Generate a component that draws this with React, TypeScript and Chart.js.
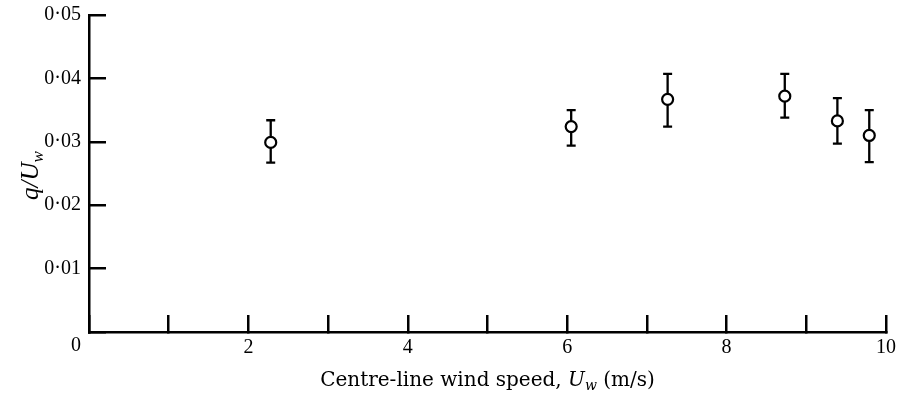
import React, { useEffect, useRef } from "react";
import { Chart, registerables } from "chart.js";

Chart.register(...registerables);

// ---- data ----
const windSpeed = [2.28, 6.05, 7.26, 8.73, 9.39, 9.79];
const ratio = [0.0299, 0.0324, 0.0367, 0.0372, 0.0333, 0.031];
const ratioLow = [0.0267, 0.0294, 0.0324, 0.0338, 0.0297, 0.0268];
const ratioHigh = [0.0334, 0.035, 0.0407, 0.0407, 0.0369, 0.035];

// tick labels indexed by tick value (x: 0..10, y: 0..5 hundredths)
const xTickLabels = ["", "", "2", "", "4", "", "6", "", "8", "", "10"];
const yTickLabels = ["", "0·01", "0·02", "0·03", "0·04", "0·05"];
const originLabel = "0";

const xTitleMain = "Centre-line wind speed, ";
const xTitleVar = "U";
const xTitleSub = "w";
const xTitleUnit = " (m/s)";
const yTitleVar = "q/U";
const yTitleSub = "w";

const SERIF = "'Liberation Serif', 'Times New Roman', serif";
const TITLE_SERIF = "'DejaVu Serif', 'Liberation Serif', serif";
const TICK_FONT_SIZE = 20;

type Run = { text: string; font: string; dy: number };

function drawRuns(ctx: CanvasRenderingContext2D, runs: Run[], cx: number, baseY: number) {
  let total = 0;
  const widths = runs.map((r) => {
    ctx.font = r.font;
    const w = ctx.measureText(r.text).width;
    total += w;
    return w;
  });
  let x = cx - total / 2;
  ctx.textAlign = "left";
  ctx.textBaseline = "alphabetic";
  runs.forEach((r, i) => {
    ctx.font = r.font;
    ctx.fillText(r.text, x, baseY + r.dy);
    x += widths[i];
  });
}

const errorBarPlugin = {
  id: "errorBars",
  beforeDatasetsDraw(chart: any) {
    const ctx = chart.ctx as CanvasRenderingContext2D;
    const xs = chart.scales.x;
    const ys = chart.scales.y;
    ctx.save();
    ctx.strokeStyle = "#000";
    ctx.lineWidth = 2.3;
    windSpeed.forEach((v, i) => {
      const px = xs.getPixelForValue(v);
      const top = ys.getPixelForValue(ratioHigh[i]);
      const bot = ys.getPixelForValue(ratioLow[i]);
      ctx.beginPath();
      ctx.moveTo(px, top);
      ctx.lineTo(px, bot);
      ctx.moveTo(px - 4.5, top);
      ctx.lineTo(px + 4.5, top);
      ctx.moveTo(px - 4.5, bot);
      ctx.lineTo(px + 4.5, bot);
      ctx.stroke();
    });
    ctx.restore();
  },
};

const axisTextPlugin = {
  id: "axisText",
  afterDraw(chart: any) {
    const ctx = chart.ctx as CanvasRenderingContext2D;
    const xs = chart.scales.x;
    const ys = chart.scales.y;
    const area = chart.chartArea;
    ctx.save();
    ctx.fillStyle = "#000";
    // shared origin label
    ctx.font = `${TICK_FONT_SIZE}px ${SERIF}`;
    ctx.textAlign = "right";
    ctx.textBaseline = "middle";
    ctx.fillText(originLabel, xs.getPixelForValue(0) - 8, ys.getPixelForValue(0) + 14);

    // x title
    const xSize = 20;
    drawRuns(
      ctx,
      [
        { text: xTitleMain, font: `${xSize}px ${TITLE_SERIF}`, dy: 0 },
        { text: xTitleVar, font: `italic ${xSize}px ${TITLE_SERIF}`, dy: 0 },
        { text: xTitleSub, font: `italic ${Math.round(xSize * 0.7)}px ${TITLE_SERIF}`, dy: 4 },
        { text: xTitleUnit, font: `${xSize}px ${TITLE_SERIF}`, dy: 0 },
      ],
      (area.left + area.right) / 2,
      386
    );

    // y title (rotated)
    ctx.translate(31, (area.top + area.bottom) / 2 + 2);
    ctx.rotate(-Math.PI / 2);
    const ySize = 25;
    drawRuns(
      ctx,
      [
        { text: yTitleVar, font: `italic ${ySize}px ${SERIF}`, dy: 0 },
        { text: yTitleSub, font: `italic ${Math.round(ySize * 0.68)}px ${SERIF}`, dy: 5 },
      ],
      0,
      7
    );
    ctx.restore();
  },
};

export default function App() {
  const canvasRef = useRef<HTMLCanvasElement | null>(null);

  useEffect(() => {
    const canvas = canvasRef.current;
    if (!canvas) return;
    const tickFont = { family: SERIF, size: TICK_FONT_SIZE };
    const chart = new Chart(canvas, {
      type: "scatter",
      data: {
        datasets: [
          {
            data: windSpeed.map((x, i) => ({ x, y: ratio[i] })),
            pointRadius: 5.5,
            pointHoverRadius: 5.5,
            pointBorderWidth: 2.2,
            pointBackgroundColor: "#fff",
            pointBorderColor: "#000",
            showLine: false,
          },
        ],
      },
      options: {
        responsive: false,
        animation: false,
        events: [],
        layout: { padding: { top: 15, right: 11, left: 0, bottom: 0 } },
        plugins: { legend: { display: false }, tooltip: { enabled: false } },
        scales: {
          x: {
            type: "linear",
            min: 0,
            max: 10,
            ticks: {
              stepSize: 1,
              autoSkip: false,
              maxRotation: 0,
              color: "#000",
              font: tickFont,
              padding: 21,
              callback: (v: any) => xTickLabels[Math.round(Number(v))] ?? "",
            },
            grid: {
              display: true,
              drawOnChartArea: false,
              drawTicks: true,
              tickLength: -17,
              lineWidth: 2.5,
              color: "#000",
            },
            border: { display: true, color: "#000", width: 2.5 },
            afterFit: (scale: any) => {
              scale.height = 67;
              scale.paddingLeft = 0;
              scale.paddingRight = 0;
            },
          },
          y: {
            type: "linear",
            min: 0,
            max: 0.05,
            ticks: {
              stepSize: 0.01,
              autoSkip: false,
              color: "#000",
              font: tickFont,
              padding: 25,
              callback: (v: any) => yTickLabels[Math.round(Number(v) * 100)] ?? "",
            },
            grid: {
              display: true,
              drawOnChartArea: false,
              drawTicks: true,
              tickLength: -17,
              lineWidth: 2.5,
              color: "#000",
            },
            border: { display: true, color: "#000", width: 2.5 },
            afterFit: (scale: any) => {
              scale.width = 89;
              scale.paddingTop = 0;
              scale.paddingBottom = 0;
            },
          },
        },
      },
      plugins: [errorBarPlugin, axisTextPlugin],
    } as any);
    return () => chart.destroy();
  }, []);

  return (
    <div style={{ position: "fixed", left: 0, top: 0, width: 897, height: 399, background: "#fff" }}>
      <canvas ref={canvasRef} width={897} height={399} style={{ display: "block", width: 897, height: 399 }} />
    </div>
  );
}
